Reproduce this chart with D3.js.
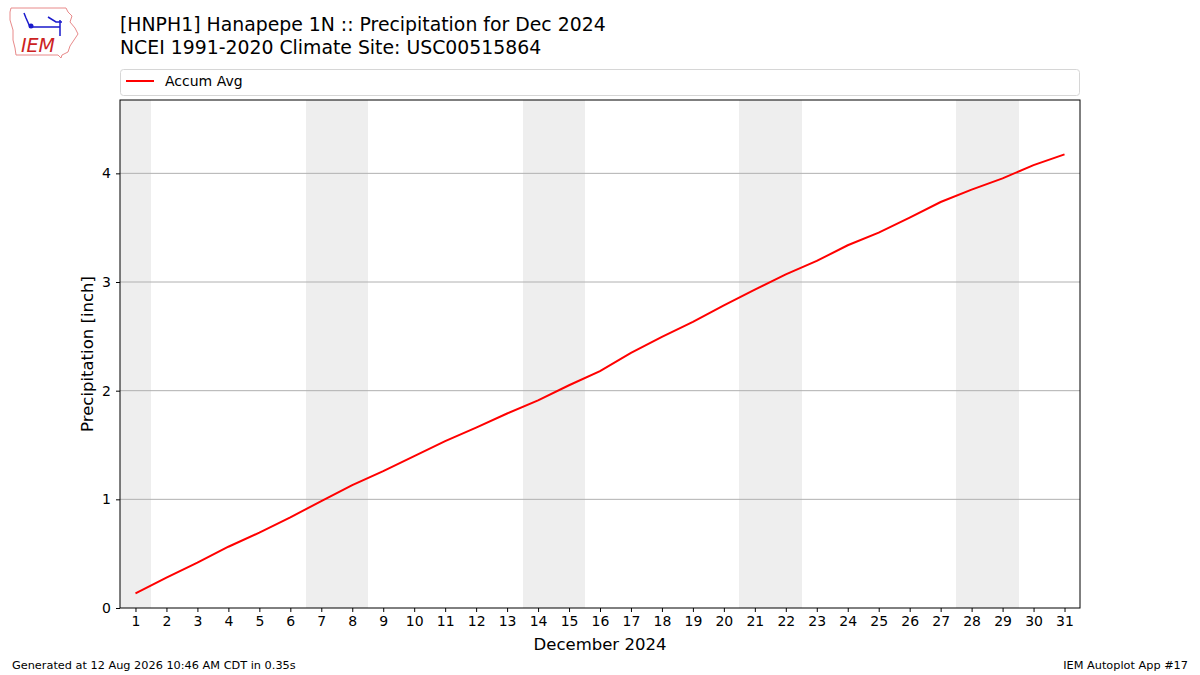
<!DOCTYPE html>
<html>
<head>
<meta charset="utf-8">
<script src="https://cdn.jsdelivr.net/npm/d3@7"></script>
<style>
  body { margin: 0; background: #fff; }
  text { font-family: "DejaVu Sans", sans-serif; fill: #000; }
</style>
</head>
<body>
<script>
(function() {
  var width = 1200;
  var height = 675;
  var margin = { top: 100, right: 120, bottom: 67, left: 120 };

  // day of month, Dec 2024
  var days = d3.range(1, 32);
  // accumulated average precipitation [inch]
  var accumAvg = [0.135, 0.279, 0.417, 0.564, 0.693, 0.834, 0.984, 1.131, 1.26, 1.398,
    1.536, 1.66, 1.79, 1.91, 2.05, 2.18, 2.348, 2.495, 2.633, 2.786,
    2.93, 3.071, 3.194, 3.338, 3.454, 3.592, 3.736, 3.85, 3.954, 4.076, 4.175];
  // weekend days (shaded)
  var weekendDays = [1, 7, 8, 14, 15, 21, 22, 28, 29];
  var yTicks = [0, 1, 2, 3, 4];

  var xScale, yScale;
  var svg = d3.select('body')
    .append('svg')
    .attr('width', width)
    .attr('height', height);

  function computeScale() {
    xScale = d3.scaleLinear()
      .domain([0.5, 31.5])
      .range([margin.left, width - margin.right]);
    yScale = d3.scaleLinear()
      .domain([0, 4.675])
      .range([height - margin.bottom, margin.top]);
  }

  function drawShading() {
    svg.append('g')
      .attr('shape-rendering', 'crispEdges')
      .selectAll('rect')
      .data(weekendDays)
      .join('rect')
      .attr('x', d => xScale(d - 0.5))
      .attr('y', margin.top)
      .attr('width', d => xScale(d + 0.5) - xScale(d - 0.5) + 0.5)
      .attr('height', yScale(0) - margin.top)
      .attr('fill', '#eeeeee');
  }

  function drawGrid() {
    svg.append('g')
      .selectAll('line')
      .data(yTicks.slice(1))
      .join('line')
      .attr('x1', margin.left)
      .attr('x2', width - margin.right)
      .attr('y1', d => yScale(d))
      .attr('y2', d => yScale(d))
      .attr('stroke', '#b0b0b0')
      .attr('stroke-width', 1);
  }

  function drawLine() {
    var line = d3.line()
      .x((d, i) => xScale(days[i]))
      .y(d => yScale(d));

    svg.append('path')
      .datum(accumAvg)
      .attr('d', line)
      .attr('fill', 'none')
      .attr('stroke', 'red')
      .attr('stroke-width', 2);
  }

  function drawAxis() {
    var xAxis = d3.axisBottom(xScale)
      .tickValues(days)
      .tickSize(4)
      .tickPadding(4)
      .tickFormat(d3.format('d'));
    var gx = svg.append('g')
      .attr('transform', `translate(0, ${yScale(0)})`)
      .call(xAxis);
    gx.select('.domain').remove();
    gx.selectAll('text').attr('font-size', '14px').attr('font-family', 'DejaVu Sans');

    var yAxis = d3.axisLeft(yScale)
      .tickValues(yTicks)
      .tickSize(4)
      .tickPadding(5)
      .tickFormat(d3.format('d'));
    var gy = svg.append('g')
      .attr('transform', `translate(${margin.left}, 0)`)
      .call(yAxis);
    gy.select('.domain').remove();
    gy.selectAll('text').attr('font-size', '14px').attr('font-family', 'DejaVu Sans');

    // frame
    svg.append('rect')
      .attr('x', margin.left)
      .attr('y', margin.top)
      .attr('width', width - margin.left - margin.right)
      .attr('height', yScale(0) - margin.top)
      .attr('fill', 'none')
      .attr('stroke', '#000')
      .attr('stroke-width', 1);

    svg.append('text')
      .attr('x', (margin.left + width - margin.right) / 2)
      .attr('y', 650)
      .attr('text-anchor', 'middle')
      .attr('font-size', '16.5px')
      .text('December 2024');

    svg.append('text')
      .attr('transform', 'translate(93, 354) rotate(-90)')
      .attr('text-anchor', 'middle')
      .attr('font-size', '16.5px')
      .text('Precipitation [inch]');
  }

  function drawLegend() {
    var g = svg.append('g');
    g.append('rect')
      .attr('x', 120.5)
      .attr('y', 69.5)
      .attr('width', 959)
      .attr('height', 26)
      .attr('rx', 3)
      .attr('fill', '#fff')
      .attr('stroke', '#d6d6d6');
    g.append('line')
      .attr('x1', 126).attr('x2', 154)
      .attr('y1', 81).attr('y2', 81)
      .attr('stroke', 'red')
      .attr('stroke-width', 2);
    g.append('text')
      .attr('x', 165)
      .attr('y', 86)
      .attr('font-size', '14px')
      .text('Accum Avg');
  }

  function drawTitles() {
    svg.append('text')
      .attr('x', 120)
      .attr('y', 31)
      .attr('font-size', '18.85px')
      .text('[HNPH1] Hanapepe 1N :: Precipitation for Dec 2024');
    svg.append('text')
      .attr('x', 120)
      .attr('y', 54)
      .attr('font-size', '18.85px')
      .text('NCEI 1991-2020 Climate Site: USC00515864');

    svg.append('text')
      .attr('x', 12)
      .attr('y', 669)
      .attr('font-size', '11.3px')
      .text('Generated at 12 Aug 2026 10:46 AM CDT in 0.35s');
    svg.append('text')
      .attr('x', 1188)
      .attr('y', 669)
      .attr('text-anchor', 'end')
      .attr('font-size', '11.3px')
      .text('IEM Autoplot App #17');
  }

  function drawLogo() {
    var g = svg.append('g');
    g.append('path')
      .attr('d', 'M11,8 L66,8 L68,12 L72,16 L70,22 L75,28 L78,34 L74,40 L70,46 L68,52 L62,55 L61,58 L58,55 L16,55 L15,48 L13,40 L13,30 L10,20 L10,12 Z')
      .attr('fill', 'none')
      .attr('stroke', '#e88a8a')
      .attr('stroke-width', 1);
    g.append('path')
      .attr('d', 'M32,27 L60,27 M60,20 L60,36 M24,13 L26,18 L30,27 M48,17 L56,22 L62,22')
      .attr('fill', 'none')
      .attr('stroke', '#1a1acc')
      .attr('stroke-width', 1.5);
    g.append('circle')
      .attr('cx', 31).attr('cy', 26).attr('r', 2.5)
      .attr('fill', '#1a1acc');
    g.append('text')
      .attr('x', 21)
      .attr('y', 52)
      .attr('font-family', 'Liberation Serif, serif')
      .attr('font-style', 'italic')
      .attr('font-size', '19px')
      .style('fill', '#cc2222')
      .text('IEM');
  }

  computeScale();
  drawShading();
  drawGrid();
  drawLine();
  drawAxis();
  drawLegend();
  drawTitles();
  drawLogo();
})();
</script>
</body>
</html>
